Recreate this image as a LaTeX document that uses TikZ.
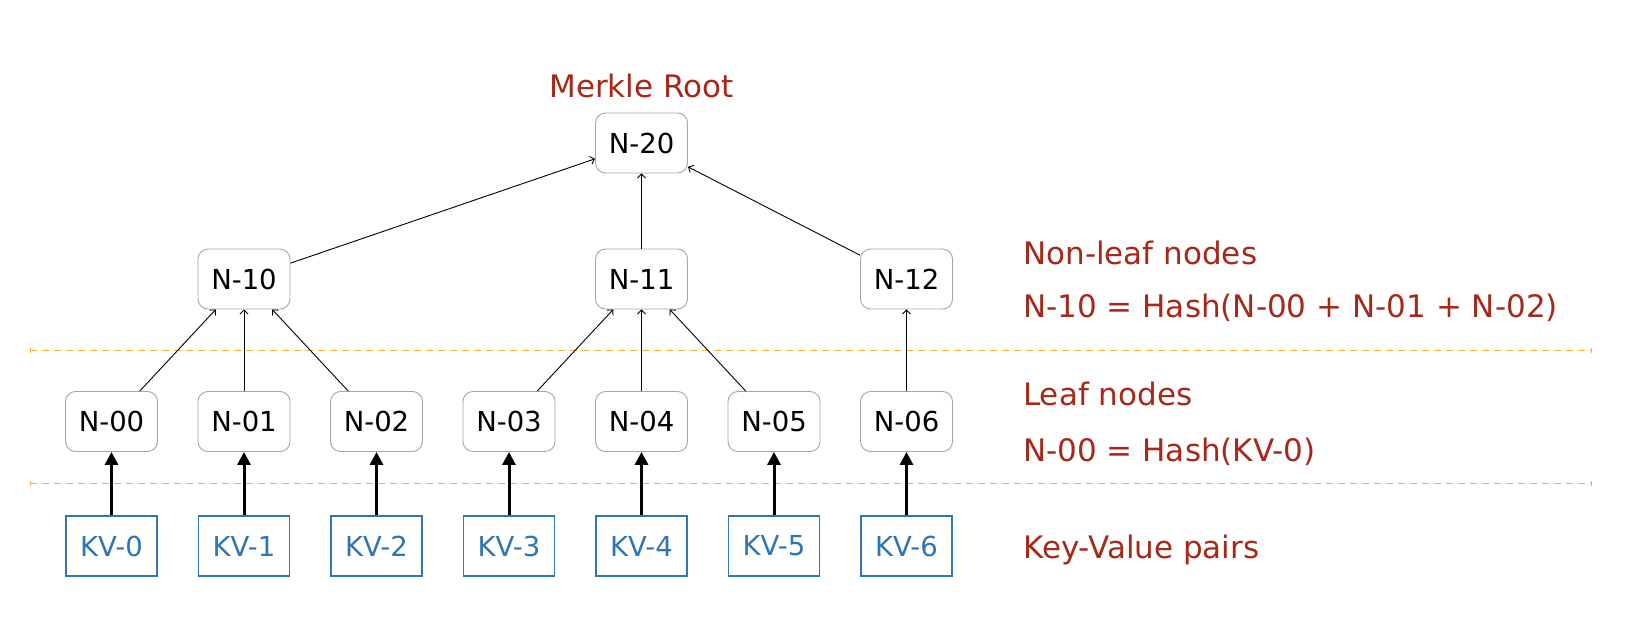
\documentclass[tikz,border=0pt]{standalone}
\usepackage{fontspec}
\setmainfont{DejaVu Sans}
\usetikzlibrary{arrows.meta}
\definecolor{lblred}{RGB}{166,40,24}
\definecolor{kvblue}{RGB}{46,117,182}
\definecolor{dashorange}{RGB}{247,178,52}
\definecolor{boxgray}{RGB}{165,165,165}
\begin{document}
\begin{tikzpicture}[x=1pt,y=-1pt,
  hnode/.style={draw=boxgray, line width=0.9pt, rounded corners=10pt, minimum width=92pt, minimum height=60pt, inner sep=0pt, font=\fontsize{27.5}{30}\selectfont, fill=white},
  kvnode/.style={draw=kvblue, line width=1.3pt, minimum width=91pt, minimum height=60pt, inner sep=0pt, text=kvblue, font=\fontsize{27.5}{30}\selectfont},
  lbl/.style={text=lblred, font=\fontsize{31}{34}\selectfont, inner sep=0pt},
  tree/.style={-{Straight Barb[length=4pt,width=8pt]}, line width=0.9pt},
  kvarrow/.style={-{Triangle[length=13pt,width=13pt]}, line width=3pt},
  sep/.style={draw=dashorange, line width=1pt, dash pattern=on 7pt off 5pt, {Bar[width=5pt,line width=0.6pt]}-{Bar[width=5pt,line width=0.6pt]}}
]
\useasboundingbox (0,0) rectangle (1625,624);

% separators
\coordinate (s1a) at (30,350);
\coordinate (s1b) at (1592,350);
\coordinate (s2a) at (30,483);
\coordinate (s2b) at (1592,483);
\draw[sep] (s1a) -- (s1b);
\draw[sep] (s2a) -- (s2b);

% root
\node[hnode] (n20) at (641.5,143) {N-20};
\node[lbl, anchor=base] (mr) at (641.5,97) {Merkle Root};

% non-leaf
\node[hnode] (n10) at (244,279) {N-10};
\node[hnode] (n11) at (641.5,279) {N-11};
\node[hnode] (n12) at (906.5,279) {N-12};

% leaves and kv
\foreach \i/\x in {0/111.5,1/244,2/376.5,3/509,4/641.5,5/774,6/906.5}{
  \node[hnode] (n0\i) at (\x,421.5) {N-0\i};
  \node[kvnode] (kv\i) at (\x,546) {KV-\i};
  \draw[kvarrow] (kv\i) -- (n0\i);
}

% tree edges
\draw[tree] (n10) -- (n20);
\draw[tree] (n11) -- (n20);
\draw[tree] (n12) -- (n20);
\draw[tree] (n00) -- (n10);
\draw[tree] (n01) -- (n10);
\draw[tree] (n02) -- (n10);
\draw[tree] (n03) -- (n11);
\draw[tree] (n04) -- (n11);
\draw[tree] (n05) -- (n11);
\draw[tree] (n06) -- (n12);

% right labels
\node[lbl, anchor=base west] (l1) at (1023,264) {Non-leaf nodes};
\node[lbl, anchor=base west] (l2) at (1023,317) {N-10 = Hash(N-00 + N-01 + N-02)};
\node[lbl, anchor=base west] (l3) at (1023,405) {Leaf nodes};
\node[lbl, anchor=base west] (l4) at (1023,461) {N-00 = Hash(KV-0)};
\node[lbl, anchor=base west] (l5) at (1023,558) {Key-Value pairs};
\end{tikzpicture}
\end{document}
